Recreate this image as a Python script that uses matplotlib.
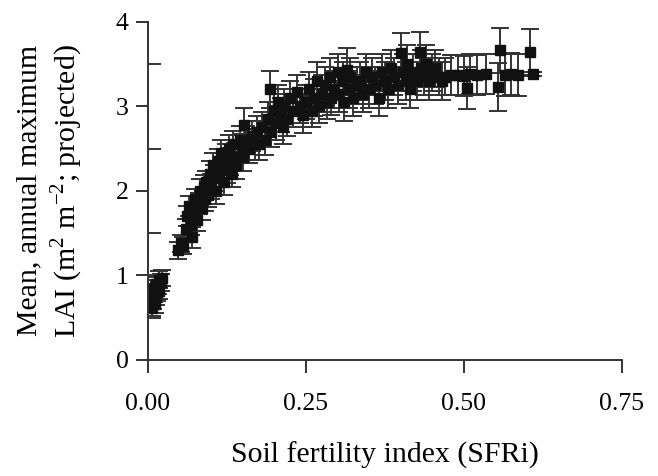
import numpy as np
import matplotlib.pyplot as plt

plt.rcParams['font.family'] = ['Liberation Serif', 'DejaVu Serif']
plt.rcParams['mathtext.fontset'] = 'custom'
plt.rcParams['mathtext.rm'] = 'Liberation Serif'

# Soil fertility index (SFRi) and mean annual maximum LAI, with error
sfri = [0.006, 0.008, 0.009, 0.010, 0.011, 0.012, 0.013, 0.014, 0.015, 0.017, 0.018, 0.020, 0.022,
        0.048, 0.052, 0.055,
        0.060, 0.062, 0.065, 0.068, 0.070, 0.072, 0.075, 0.078, 0.080, 0.083, 0.085, 0.088, 0.090,
        0.092, 0.095, 0.098, 0.100, 0.103, 0.105, 0.108, 0.110, 0.112, 0.115, 0.118, 0.120, 0.123,
        0.125, 0.128, 0.130, 0.133, 0.135, 0.138, 0.140, 0.145, 0.148, 0.150, 0.152, 0.155, 0.160,
        0.165, 0.170,
        0.172, 0.175, 0.180, 0.185, 0.190, 0.193, 0.195, 0.200, 0.203, 0.205, 0.210, 0.213, 0.215,
        0.220, 0.225, 0.230, 0.236, 0.240, 0.245, 0.250,
        0.255, 0.260, 0.263, 0.268, 0.270, 0.275, 0.280, 0.283, 0.288, 0.290, 0.295, 0.300, 0.303,
        0.308, 0.310, 0.315, 0.318, 0.320, 0.325, 0.330,
        0.335, 0.340, 0.345, 0.350, 0.355, 0.360, 0.365, 0.370, 0.375, 0.380, 0.385, 0.390, 0.395,
        0.400, 0.403, 0.408, 0.410, 0.415, 0.420, 0.425, 0.430, 0.432, 0.437, 0.440, 0.445, 0.450,
        0.455, 0.460, 0.465, 0.470, 0.480, 0.490, 0.500, 0.505, 0.510, 0.520, 0.535, 0.554, 0.557,
        0.565, 0.575, 0.585, 0.604, 0.610]
lai = [0.62, 0.70, 0.78, 0.85, 0.66, 0.90, 0.75, 0.80, 0.88, 0.82, 0.95, 0.92, 0.97,
       1.30, 1.38, 1.35,
       1.55, 1.70, 1.82, 1.60, 1.45, 1.75, 1.90, 1.65, 1.85, 2.00, 1.80, 2.05, 1.90,
       2.10, 1.95, 2.20, 2.05, 2.30, 2.15, 2.00, 2.35, 2.20, 2.45, 2.30, 2.10, 2.40,
       2.25, 2.50, 2.35, 2.20, 2.55, 2.40, 2.30, 2.60, 2.50, 2.40, 2.78, 2.60, 2.50,
       2.65, 2.55,
       2.70, 2.55, 2.75, 2.60, 2.85, 3.20, 2.70, 2.95, 2.80, 3.05, 2.90, 2.75, 3.00,
       2.85, 3.10, 2.95, 3.17, 3.00, 2.90, 3.05,
       3.20, 2.95, 3.10, 3.30, 3.00, 3.15, 3.25, 3.05, 3.35, 3.10, 3.20, 3.40, 3.15,
       3.30, 3.05, 3.43, 3.20, 3.35, 3.10, 3.25,
       3.30, 3.15, 3.40, 3.20, 3.35, 3.25, 3.10, 3.40, 3.30, 3.20, 3.45, 3.35, 3.25,
       3.63, 3.40, 3.30, 3.50, 3.20, 3.40, 3.30, 3.64, 3.45, 3.35, 3.50, 3.30, 3.40,
       3.45, 3.35, 3.30, 3.35, 3.37, 3.37, 3.36, 3.22, 3.38, 3.37, 3.38, 3.23, 3.66,
       3.37, 3.38, 3.37, 3.64, 3.38]
err = [0.10, 0.10, 0.10, 0.10, 0.10, 0.10, 0.10, 0.10, 0.10, 0.10, 0.10, 0.10, 0.10,
       0.10, 0.10, 0.10,
       0.12, 0.12, 0.12, 0.12, 0.12, 0.12, 0.12, 0.12, 0.12, 0.14, 0.14, 0.14, 0.14,
       0.14, 0.14, 0.15, 0.15, 0.15, 0.15, 0.15, 0.15, 0.15, 0.15, 0.15, 0.15, 0.15,
       0.16, 0.16, 0.16, 0.16, 0.16, 0.16, 0.16, 0.17, 0.17, 0.17, 0.20, 0.17, 0.17,
       0.18, 0.18,
       0.18, 0.18, 0.18, 0.18, 0.20, 0.22, 0.18, 0.20, 0.20, 0.20, 0.20, 0.20, 0.20,
       0.20, 0.20, 0.20, 0.20, 0.20, 0.22, 0.20,
       0.20, 0.20, 0.22, 0.22, 0.20, 0.22, 0.22, 0.20, 0.22, 0.20, 0.22, 0.22, 0.22,
       0.22, 0.22, 0.26, 0.22, 0.22, 0.22, 0.22,
       0.22, 0.22, 0.22, 0.22, 0.22, 0.22, 0.22, 0.22, 0.22, 0.22, 0.22, 0.22, 0.22,
       0.24, 0.22, 0.22, 0.22, 0.22, 0.22, 0.22, 0.24, 0.22, 0.22, 0.22, 0.22, 0.22,
       0.22, 0.22, 0.22, 0.22, 0.24, 0.24, 0.24, 0.25, 0.24, 0.24, 0.24, 0.28, 0.27,
       0.25, 0.25, 0.25, 0.27, 0.02]

x_ticks = [0.00, 0.25, 0.50, 0.75]
x_ticklabels = ['0.00', '0.25', '0.50', '0.75']
y_ticks = [0, 1, 2, 3, 4]

fig = plt.figure(figsize=(6.58, 4.76), dpi=100)
ax = fig.add_axes([0.225, 0.2437, 0.72, 0.7107])

ax.errorbar(sfri, lai, yerr=err, fmt='s', color='#111111', ecolor='#333333',
            markersize=7, elinewidth=1.4, capsize=6.5, capthick=1.4)

ax.set_xlim(0, 0.75)
ax.set_ylim(0, 4)
ax.spines['top'].set_visible(False)
ax.spines['right'].set_visible(False)
ax.spines['left'].set_color('#333333')
ax.spines['bottom'].set_color('#333333')
ax.spines['left'].set_linewidth(1.4)
ax.spines['bottom'].set_linewidth(1.4)

ax.set_xticks(x_ticks)
ax.set_xticklabels(x_ticklabels)
ax.set_yticks(y_ticks)
ax.set_yticks([0.5, 1.5, 2.5, 3.5], minor=True)
ax.tick_params(axis='both', which='major', direction='out', length=9, width=1.4,
               color='#333333', labelsize=18.5, pad=5)
ax.tick_params(axis='x', which='major', pad=15)
ax.tick_params(axis='y', which='minor', direction='in', length=9, width=1.4, color='#333333')

ax.set_xlabel('Soil fertility index (SFRi)', fontsize=21.5, labelpad=19)
ax.set_ylabel('Mean, annual maximum\nLAI (m$^{2}$ m$^{-2}$; projected)', fontsize=21.5,
              labelpad=22, linespacing=1.25)

fig.savefig('out.png', dpi=100)
